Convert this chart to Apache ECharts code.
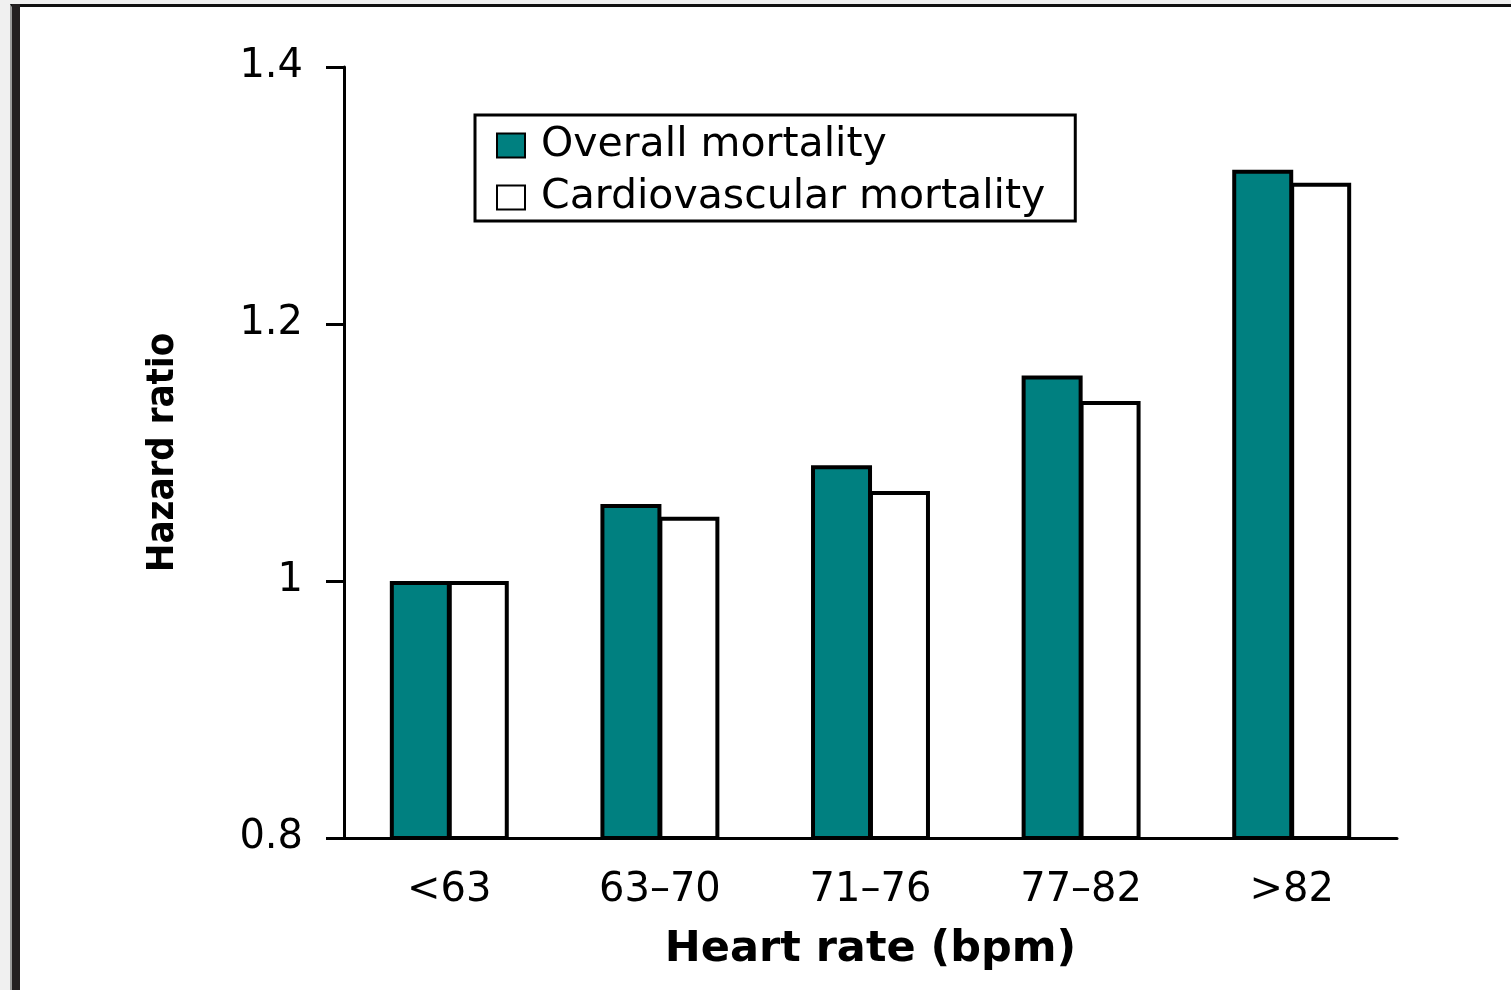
<!DOCTYPE html>
<html>
<head>
<meta charset="utf-8">
<title>Hazard ratio by heart rate</title>
<script src="https://cdn.jsdelivr.net/npm/echarts@6.0.0/dist/echarts.min.js"></script>
<style>
  html, body { margin: 0; padding: 0; background: #f0f0f0; overflow: hidden; }
  #frame {
    position: absolute;
    left: 10px;
    top: 4px;
    width: 1501px;
    height: 986px;
    box-sizing: border-box;
    background: #fff;
    border-left: 2px solid #999;
    border-top: 3px solid #111;
  }
  #frame::before {
    content: '';
    position: absolute;
    left: 0;
    top: -3px;
    width: 8px;
    height: 990px;
    background: #231f20;
  }
  #chart {
    position: absolute;
    left: 0;
    top: 0;
    width: 1511px;
    height: 990px;
  }
</style>
</head>
<body>
<div id="frame"></div>
<div id="chart"></div>
<script>
// heart rate groups (bpm)
var groups = ['<63', '63–70', '71–76', '77–82', '>82']
// hazard ratios
var overall = [1.00, 1.06, 1.09, 1.16, 1.32]
var cardio = [1.00, 1.05, 1.07, 1.14, 1.31]
var seriesNames = ['Overall mortality', 'Cardiovascular mortality']

var chart = echarts.init(document.getElementById('chart'))
chart.setOption({
  animation: false,
  grid: {
    left: 344,
    right: 114,
    top: 67,
    bottom: 152
  },
  legend: {
    orient: 'vertical',
    left: 475,
    top: 115,
    selectedMode: false,
    backgroundColor: '#fff',
    borderColor: '#000',
    borderWidth: 3,
    padding: [10, 30, 3, 21],
    icon: 'rect',
    itemWidth: 28,
    itemHeight: 24,
    itemGap: 11,
    itemStyle: { borderColor: '#000', borderWidth: 2 },
    textStyle: {
      color: '#000',
      fontFamily: 'DejaVu Sans',
      fontSize: 41,
      lineHeight: 40,
      padding: [0, 0, 0, 11]
    },
    data: seriesNames
  },
  xAxis: {
    type: 'category',
    data: groups,
    name: 'Heart rate (bpm)',
    nameLocation: 'middle',
    nameGap: 112,
    nameTextStyle: {
      color: '#000',
      fontFamily: 'DejaVu Sans',
      fontWeight: 'bold',
      fontSize: 43,
      verticalAlign: 'middle'
    },
    axisLine: { lineStyle: { color: '#000', width: 3 } },
    axisTick: { length: 14, lineStyle: { color: '#000', width: 3 } },
    axisLabel: {
      color: '#000',
      fontFamily: 'DejaVu Sans',
      fontSize: 40,
      margin: 33
    }
  },
  yAxis: {
    type: 'value',
    min: 0.8,
    max: 1.4,
    interval: 0.2,
    name: 'Hazard ratio',
    nameLocation: 'middle',
    nameGap: 181,
    nameTextStyle: {
      color: '#000',
      fontFamily: '"DejaVu Sans Condensed", "Liberation Sans", Arial, sans-serif',
      fontWeight: 'bold',
      fontSize: 38,
      verticalAlign: 'middle'
    },
    splitLine: { show: false },
    axisLine: { show: true, lineStyle: { color: '#000', width: 3 } },
    axisTick: { show: true, length: 18, lineStyle: { color: '#000', width: 3 } },
    axisLabel: {
      color: '#000',
      fontFamily: 'DejaVu Sans',
      fontSize: 40,
      margin: 41
    }
  },
  series: [
    {
      name: seriesNames[0],
      type: 'bar',
      barWidth: 61,
      barGap: '-5%',
      itemStyle: { color: '#008080', borderColor: '#000', borderWidth: 4 },
      data: overall
    },
    {
      name: seriesNames[1],
      type: 'bar',
      barWidth: 61,
      barGap: '-5%',
      itemStyle: { color: '#fff', borderColor: '#000', borderWidth: 4 },
      data: cardio
    }
  ]
})
</script>
</body>
</html>
